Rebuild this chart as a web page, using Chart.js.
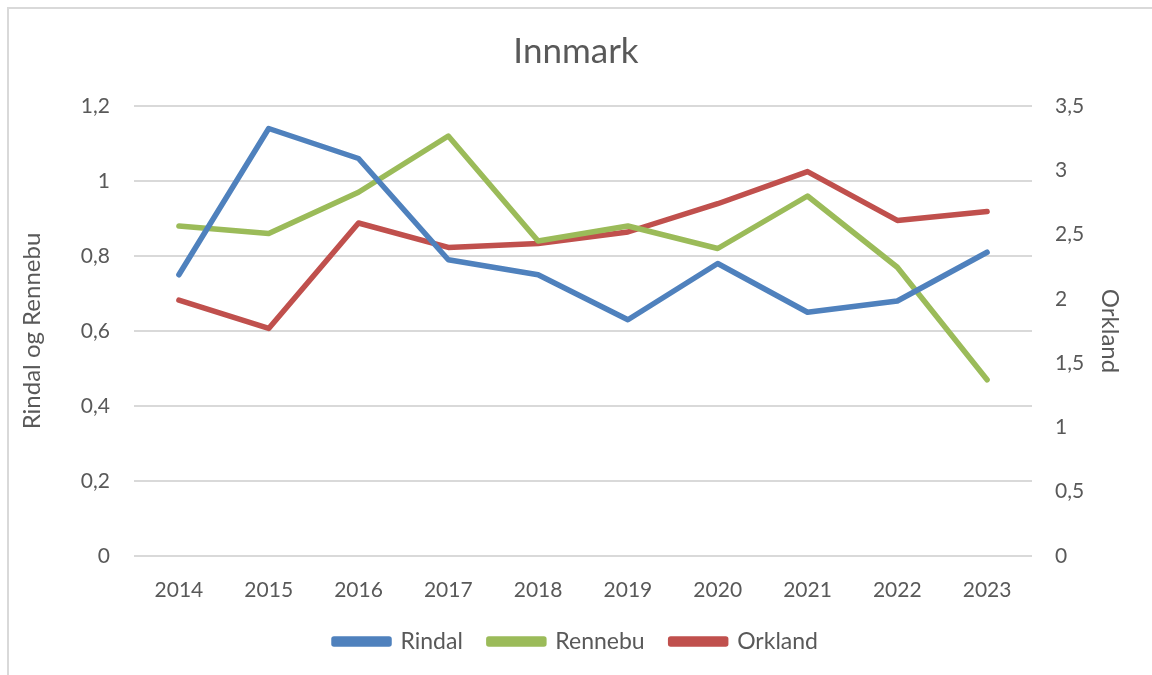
<!DOCTYPE html>
<html lang="no">
<head>
    <meta charset="utf-8"/>
    <title>Innmark</title>
    <script src="https://cdn.jsdelivr.net/npm/chart.js"></script>
    <style>
        html, body {
            margin: 0;
            padding: 0;
            background: #ffffff;
            overflow: hidden;
        }
        #frame {
            position: absolute;
            left: 7px;
            top: 7px;
            width: 1200px;
            height: 700px;
            border-left: 2px solid #d9d9d9;
            border-top: 2px solid #d9d9d9;
        }
        #wrap {
            position: absolute;
            left: 0;
            top: 0;
            width: 1152px;
            height: 675px;
        }
    </style>
</head>
<body>
    <div id="frame"></div>
    <div id="wrap"><canvas id="chart"></canvas></div>

    <script>
        const years = ['2014', '2015', '2016', '2017', '2018', '2019', '2020', '2021', '2022', '2023'];
        const rindal = [0.75, 1.14, 1.06, 0.79, 0.75, 0.63, 0.78, 0.65, 0.68, 0.81];
        const rennebu = [0.88, 0.86, 0.97, 1.12, 0.84, 0.88, 0.82, 0.96, 0.77, 0.47];
        const orkland = [1.99, 1.77, 2.59, 2.40, 2.43, 2.52, 2.74, 2.99, 2.61, 2.68];

        const fontFamily = "Lato, 'Open Sans', sans-serif";
        const textColor = '#595959';
        const gridColor = '#d9d9d9';

        // norsk desimalkomma
        const komma = v => (Math.round(v * 10) / 10).toString().replace('.', ',');

        function serie(label, data, color, axis) {
            return {
                label: label,
                data: data,
                yAxisID: axis,
                borderColor: color,
                backgroundColor: color,
                borderWidth: 5.5,
                borderCapStyle: 'round',
                borderJoinStyle: 'round',
                pointRadius: 0,
                pointHoverRadius: 0,
                tension: 0,
                fill: false
            };
        }

        new Chart(document.getElementById('chart'), {
            type: 'line',
            data: {
                labels: years,
                datasets: [
                    serie('Rindal', rindal, '#4f81bd', 'y'),
                    serie('Rennebu', rennebu, '#9bbb59', 'y'),
                    serie('Orkland', orkland, '#c0504d', 'y1')
                ]
            },
            options: {
                responsive: true,
                maintainAspectRatio: false,
                animation: false,
                layout: { padding: { top: 0, bottom: 12, left: 0, right: 0 } },
                plugins: {
                    title: {
                        display: true,
                        text: 'Innmark',
                        color: textColor,
                        font: { family: fontFamily, size: 35, weight: 'normal' },
                        padding: { top: 31, bottom: 33 }
                    },
                    legend: {
                        position: 'bottom',
                        labels: {
                            color: textColor,
                            font: { family: fontFamily, size: 23 },
                            boxWidth: 55,
                            boxHeight: 5,
                            padding: 26
                        }
                    },
                    tooltip: { enabled: false }
                },
                scales: {
                    x: {
                        offset: true,
                        grid: { display: false },
                        border: { display: false },
                        ticks: {
                            color: textColor,
                            font: { family: fontFamily, size: 21 },
                            padding: 14,
                            maxRotation: 0
                        },
                        afterFit: s => { s.height = 48; }
                    },
                    y: {
                        position: 'left',
                        min: 0,
                        max: 1.2,
                        grid: { color: gridColor, lineWidth: 2, drawTicks: false },
                        border: { display: false },
                        ticks: {
                            stepSize: 0.2,
                            color: textColor,
                            font: { family: fontFamily, size: 21 },
                            padding: 24,
                            callback: komma
                        },
                        title: {
                            display: true,
                            text: 'Rindal og Rennebu',
                            color: textColor,
                            font: { family: fontFamily, size: 24 },
                            padding: { top: 18, bottom: 0 }
                        },
                        afterFit: s => { s.width = 134; }
                    },
                    y1: {
                        position: 'right',
                        min: 0,
                        max: 3.5,
                        grid: { display: false, drawTicks: false },
                        border: { display: false },
                        ticks: {
                            stepSize: 0.5,
                            color: textColor,
                            font: { family: fontFamily, size: 21 },
                            padding: 23,
                            callback: komma
                        },
                        title: {
                            display: true,
                            text: 'Orkland',
                            color: textColor,
                            font: { family: fontFamily, size: 24 },
                            padding: { top: 28, bottom: 0 }
                        },
                        afterFit: s => { s.width = 120; }
                    }
                }
            }
        });
    </script>
</body>
</html>
